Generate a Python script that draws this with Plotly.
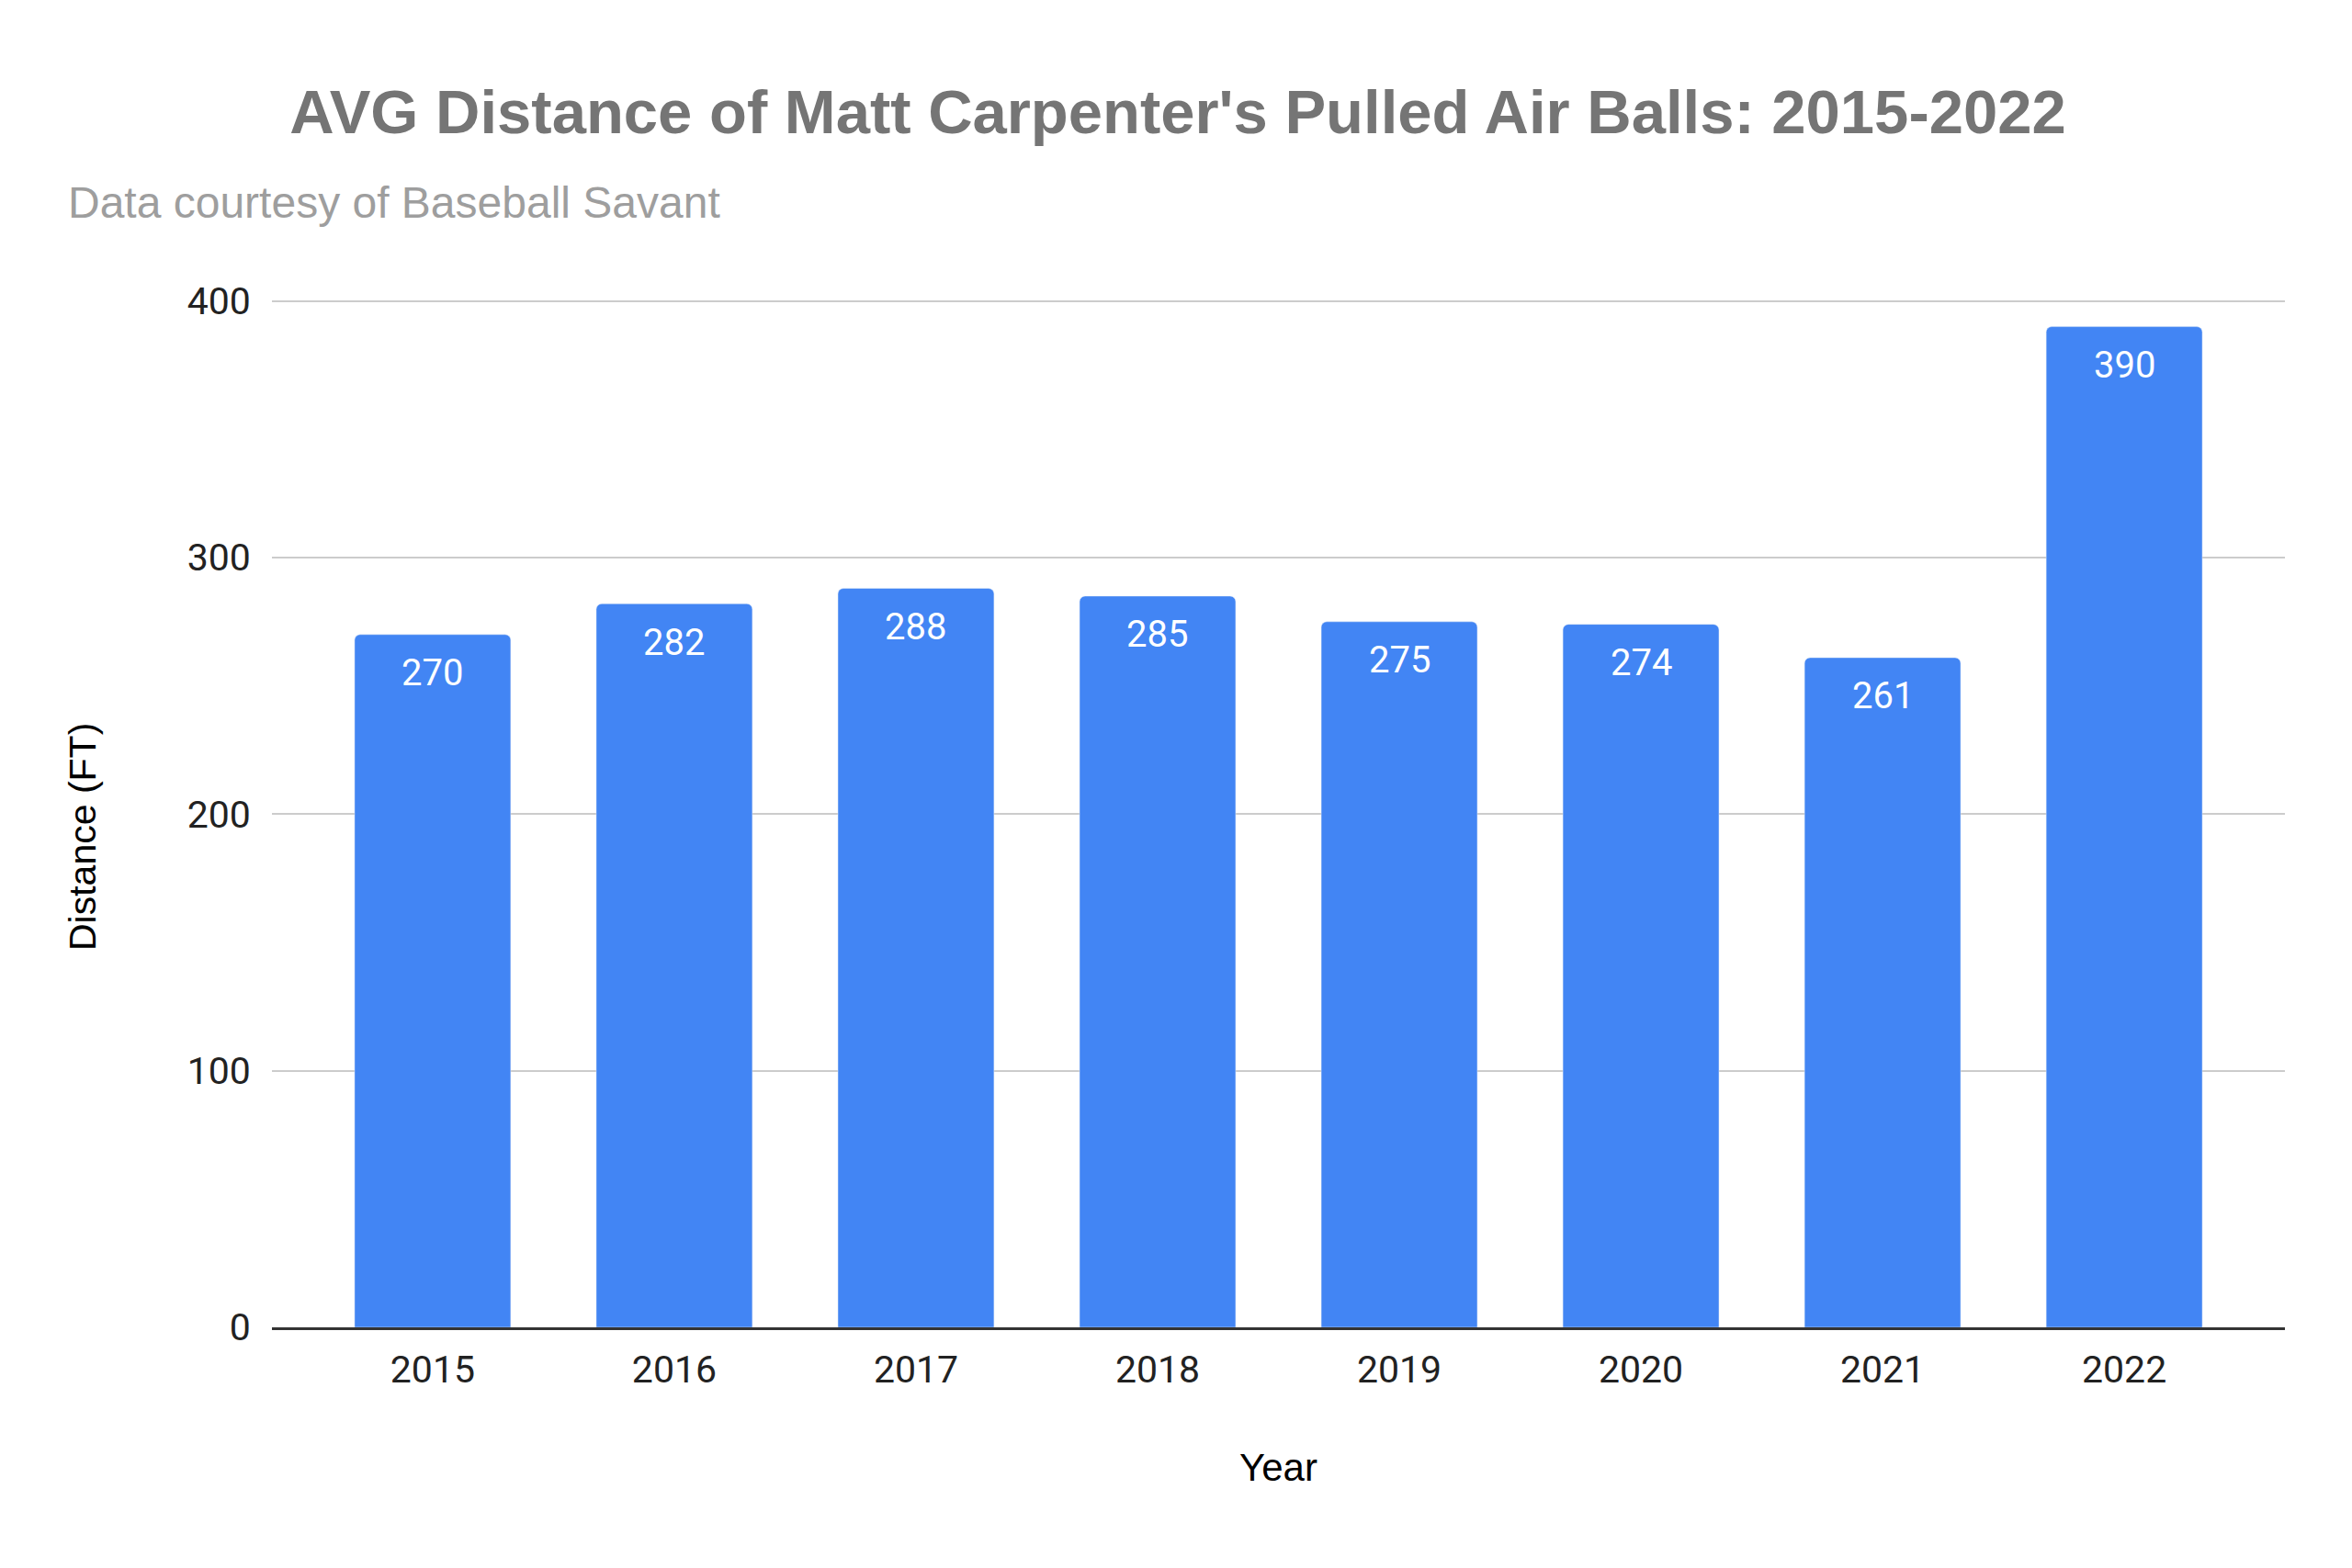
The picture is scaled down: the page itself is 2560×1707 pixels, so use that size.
import plotly.graph_objects as go

years = ["2015", "2016", "2017", "2018", "2019", "2020", "2021", "2022"]
distance = [270, 282, 288, 285, 275, 274, 261, 390]
y_ticks = [0, 100, 200, 300, 400]

W, H = 2560, 1707
# page draws the figure with an 8px body margin, so these are figure coords
L, R, T, B = 288, 81, 318, 270
PW, PH = W - L - R, H - T - B

fig = go.Figure()
fig.add_trace(go.Bar(
    x=years, y=distance,
    marker=dict(color="#4285F4", cornerradius=6),
    hoverinfo="x+y",
))

# value labels sit just under each bar top (x as category index, since
# the year strings would be read as numbers)
labels = [dict(x=i, y=v, xref="x", yref="y", text=str(v), showarrow=False,
               yanchor="middle", yshift=-42,
               font=dict(family="Roboto", size=40, color="white"))
          for i, v in enumerate(distance)]

labels.append(dict(
    text="Data courtesy of Baseball Savant",
    xref="paper", yref="paper",
    x=(64 - L) / PW, y=1 + (T - 212) / PH,
    xanchor="left", yanchor="middle", showarrow=False,
    font=dict(family="Liberation Sans, Arial", size=48, color="#9e9e9e"),
))
labels.append(dict(
    text="Distance (FT)", textangle=-90,
    xref="paper", yref="paper",
    x=(82 - L) / PW, y=1 - (903 - T) / PH,
    xanchor="center", yanchor="middle", showarrow=False,
    font=dict(family="Liberation Sans, Arial", size=41, color="black"),
))
labels.append(dict(
    text="Year",
    xref="paper", yref="paper",
    x=(1383 - L) / PW, y=-(1589 - (H - B)) / PH,
    xanchor="center", yanchor="middle", showarrow=False,
    font=dict(family="Liberation Sans, Arial", size=42, color="black"),
))

fig.update_layout(
    width=W, height=H,
    margin=dict(l=L, r=R, t=T, b=B),
    paper_bgcolor="white", plot_bgcolor="white",
    bargap=0.354,
    showlegend=False,
    title=dict(
        text="<b>AVG Distance of Matt Carpenter's Pulled Air Balls: 2015-2022</b>",
        font=dict(family="Liberation Sans, Arial", size=67, color="#757575"),
        x=1274 / W, xanchor="center", xref="container",
        y=1 - 114 / H, yanchor="middle", yref="container",
    ),
    annotations=labels,
)

fig.update_xaxes(
    type="category", range=[-0.665, 7.665],
    tickfont=dict(family="Roboto", size=41, color="#222"),
    ticks="outside", ticklen=8, tickcolor="rgba(0,0,0,0)",
    showline=True, linecolor="#333", linewidth=3,
    showgrid=False,
)
fig.update_yaxes(
    range=[0, 400.6], tickvals=y_ticks,
    tickfont=dict(family="Roboto", size=41, color="#222"),
    ticks="outside", ticklen=14, tickcolor="rgba(0,0,0,0)",
    showgrid=True, gridcolor="#cccccc", gridwidth=2,
    zeroline=False, showline=False,
)

fig.write_html("out.html")
